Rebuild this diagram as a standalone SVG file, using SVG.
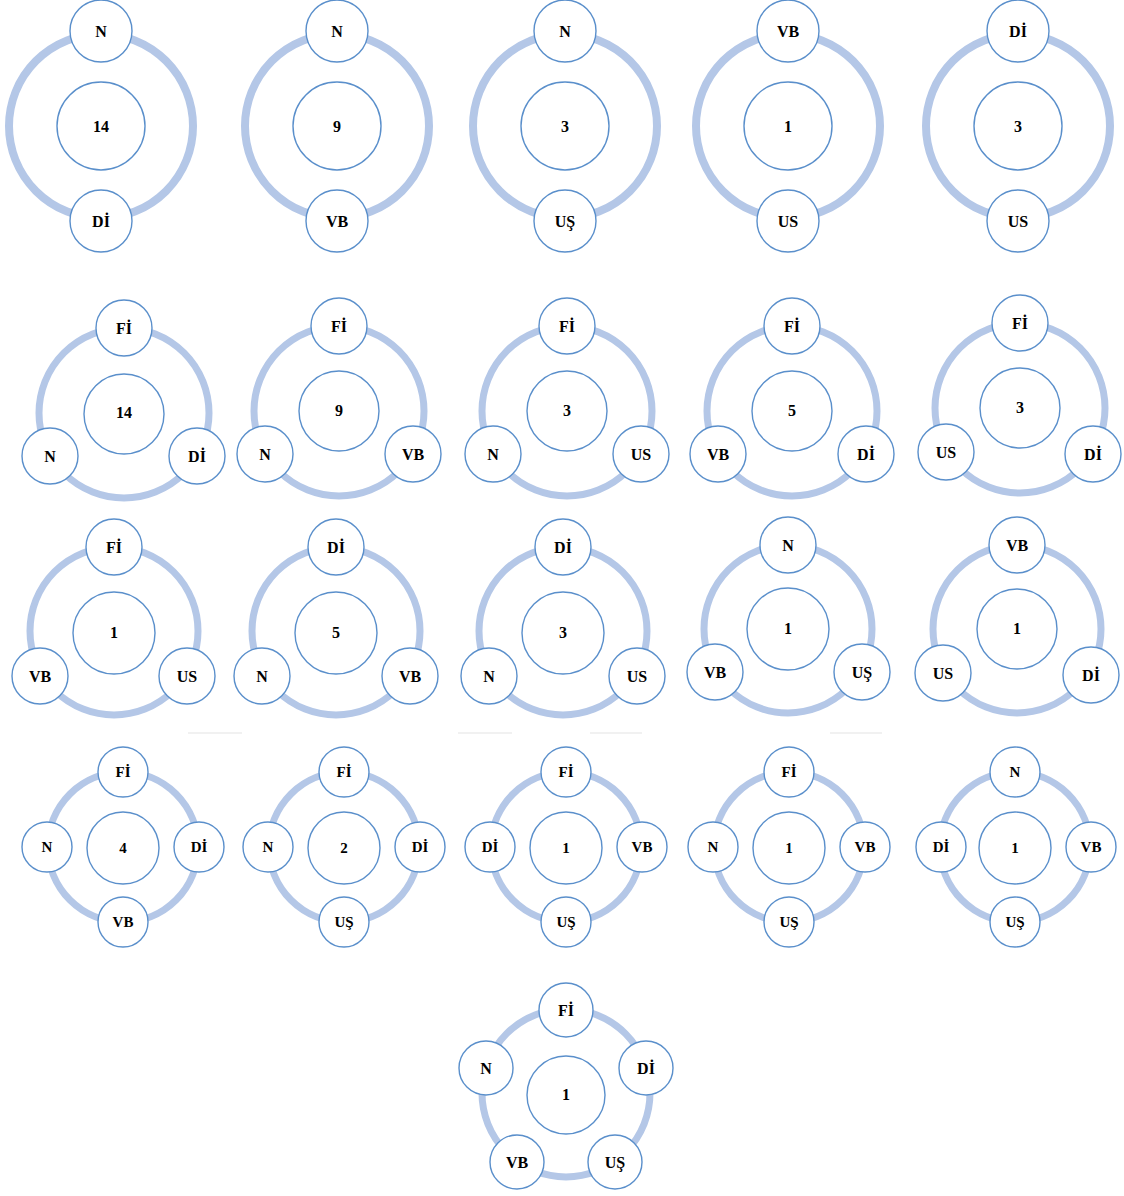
<svg xmlns="http://www.w3.org/2000/svg" width="1124" height="1196" viewBox="0 0 1124 1196">
<style>
.ring{fill:none;stroke:#b4c7e7;stroke-width:8}
.ring2{fill:none;stroke:#b4c7e7;stroke-width:7}
.nd{fill:#fff;stroke:#5a8fcb;stroke-width:1.4}
.t{font-family:"Liberation Serif","Times New Roman",serif;font-weight:bold;font-size:16px;fill:#000;text-anchor:middle}
.s{font-size:15px}
.faint{stroke:#ededed;stroke-width:1.5}
</style>
<rect width="1124" height="1196" fill="#fff"/>
<g id="connectors">
<circle class="ring" cx="101" cy="126" r="92"/>
<circle class="ring" cx="337" cy="126" r="92"/>
<circle class="ring" cx="565" cy="126" r="92"/>
<circle class="ring" cx="788" cy="126" r="92"/>
<circle class="ring" cx="1018" cy="126" r="92"/>
<circle class="ring2" cx="124" cy="413" r="85"/>
<circle class="ring2" cx="339" cy="411" r="85"/>
<circle class="ring2" cx="567" cy="411" r="85"/>
<circle class="ring2" cx="792" cy="411" r="85"/>
<circle class="ring2" cx="1020" cy="408" r="85"/>
<circle class="ring2" cx="114" cy="631" r="84"/>
<circle class="ring2" cx="336" cy="631" r="84"/>
<circle class="ring2" cx="563" cy="631" r="84"/>
<circle class="ring2" cx="788" cy="629" r="84"/>
<circle class="ring2" cx="1017" cy="629" r="84"/>
<circle class="ring2" cx="123" cy="847" r="75"/>
<circle class="ring2" cx="344" cy="847" r="75"/>
<circle class="ring2" cx="566" cy="847" r="75"/>
<circle class="ring2" cx="789" cy="847" r="75"/>
<circle class="ring2" cx="1015" cy="847" r="75"/>
<circle class="ring2" cx="566" cy="1093" r="84"/>
</g>
<g id="faint-lines">
<line class="faint" x1="188" y1="733" x2="242" y2="733"/>
<line class="faint" x1="458" y1="733" x2="512" y2="733"/>
<line class="faint" x1="590" y1="733" x2="642" y2="733"/>
<line class="faint" x1="830" y1="733" x2="882" y2="733"/>
</g>

<!-- Row 1 -->
<g id="r1d1">
<g id="r1d1-top"><circle class="nd" cx="101" cy="31" r="31"/><text class="t" x="101" y="36.5">N</text></g>
<g id="r1d1-center"><circle class="nd" cx="101" cy="126" r="44"/><text class="t" x="101" y="131.5">14</text></g>
<g id="r1d1-bottom"><circle class="nd" cx="101" cy="221" r="31"/><text class="t" x="101" y="226.5">Dİ</text></g>
</g>
<g id="r1d2">
<g id="r1d2-top"><circle class="nd" cx="337" cy="31" r="31"/><text class="t" x="337" y="36.5">N</text></g>
<g id="r1d2-center"><circle class="nd" cx="337" cy="126" r="44"/><text class="t" x="337" y="131.5">9</text></g>
<g id="r1d2-bottom"><circle class="nd" cx="337" cy="221" r="31"/><text class="t" x="337" y="226.5">VB</text></g>
</g>
<g id="r1d3">
<g id="r1d3-top"><circle class="nd" cx="565" cy="31" r="31"/><text class="t" x="565" y="36.5">N</text></g>
<g id="r1d3-center"><circle class="nd" cx="565" cy="126" r="44"/><text class="t" x="565" y="131.5">3</text></g>
<g id="r1d3-bottom"><circle class="nd" cx="565" cy="221" r="31"/><text class="t" x="565" y="226.5">UŞ</text></g>
</g>
<g id="r1d4">
<g id="r1d4-top"><circle class="nd" cx="788" cy="31" r="31"/><text class="t" x="788" y="36.5">VB</text></g>
<g id="r1d4-center"><circle class="nd" cx="788" cy="126" r="44"/><text class="t" x="788" y="131.5">1</text></g>
<g id="r1d4-bottom"><circle class="nd" cx="788" cy="221" r="31"/><text class="t" x="788" y="226.5">US</text></g>
</g>
<g id="r1d5">
<g id="r1d5-top"><circle class="nd" cx="1018" cy="31" r="31"/><text class="t" x="1018" y="36.5">Dİ</text></g>
<g id="r1d5-center"><circle class="nd" cx="1018" cy="126" r="44"/><text class="t" x="1018" y="131.5">3</text></g>
<g id="r1d5-bottom"><circle class="nd" cx="1018" cy="221" r="31"/><text class="t" x="1018" y="226.5">US</text></g>
</g>

<!-- Row 2 -->
<g id="r2d1">
<g id="r2d1-top"><circle class="nd" cx="124" cy="328" r="28"/><text class="t" x="124" y="333.5">Fİ</text></g>
<g id="r2d1-center"><circle class="nd" cx="124" cy="414" r="40"/><text class="t" x="124" y="418">14</text></g>
<g id="r2d1-left"><circle class="nd" cx="50" cy="456" r="28"/><text class="t" x="50" y="461.5">N</text></g>
<g id="r2d1-right"><circle class="nd" cx="197" cy="456" r="28"/><text class="t" x="197" y="461.5">Dİ</text></g>
</g>
<g id="r2d2">
<g id="r2d2-top"><circle class="nd" cx="339" cy="326" r="28"/><text class="t" x="339" y="331.5">Fİ</text></g>
<g id="r2d2-center"><circle class="nd" cx="339" cy="411" r="40"/><text class="t" x="339" y="416">9</text></g>
<g id="r2d2-left"><circle class="nd" cx="265" cy="454" r="28"/><text class="t" x="265" y="459.5">N</text></g>
<g id="r2d2-right"><circle class="nd" cx="413" cy="454" r="28"/><text class="t" x="413" y="459.5">VB</text></g>
</g>
<g id="r2d3">
<g id="r2d3-top"><circle class="nd" cx="567" cy="326" r="28"/><text class="t" x="567" y="331.5">Fİ</text></g>
<g id="r2d3-center"><circle class="nd" cx="567" cy="411" r="40"/><text class="t" x="567" y="416">3</text></g>
<g id="r2d3-left"><circle class="nd" cx="493" cy="454" r="28"/><text class="t" x="493" y="459.5">N</text></g>
<g id="r2d3-right"><circle class="nd" cx="641" cy="454" r="28"/><text class="t" x="641" y="459.5">US</text></g>
</g>
<g id="r2d4">
<g id="r2d4-top"><circle class="nd" cx="792" cy="326" r="28"/><text class="t" x="792" y="331.5">Fİ</text></g>
<g id="r2d4-center"><circle class="nd" cx="792" cy="411" r="40"/><text class="t" x="792" y="416">5</text></g>
<g id="r2d4-left"><circle class="nd" cx="718" cy="454" r="28"/><text class="t" x="718" y="459.5">VB</text></g>
<g id="r2d4-right"><circle class="nd" cx="866" cy="454" r="28"/><text class="t" x="866" y="459.5">Dİ</text></g>
</g>
<g id="r2d5">
<g id="r2d5-top"><circle class="nd" cx="1020" cy="323" r="28"/><text class="t" x="1020" y="328.5">Fİ</text></g>
<g id="r2d5-center"><circle class="nd" cx="1020" cy="408" r="40"/><text class="t" x="1020" y="413">3</text></g>
<g id="r2d5-left"><circle class="nd" cx="946" cy="452" r="28"/><text class="t" x="946" y="457.5">US</text></g>
<g id="r2d5-right"><circle class="nd" cx="1093" cy="454" r="28"/><text class="t" x="1093" y="459.5">Dİ</text></g>
</g>

<!-- Row 3 -->
<g id="r3d1">
<g id="r3d1-top"><circle class="nd" cx="114" cy="547" r="28"/><text class="t" x="114" y="552.5">Fİ</text></g>
<g id="r3d1-center"><circle class="nd" cx="114" cy="633" r="41"/><text class="t" x="114" y="638">1</text></g>
<g id="r3d1-left"><circle class="nd" cx="40" cy="676" r="28"/><text class="t" x="40" y="681.5">VB</text></g>
<g id="r3d1-right"><circle class="nd" cx="187" cy="676" r="28"/><text class="t" x="187" y="681.5">US</text></g>
</g>
<g id="r3d2">
<g id="r3d2-top"><circle class="nd" cx="336" cy="547" r="28"/><text class="t" x="336" y="552.5">Dİ</text></g>
<g id="r3d2-center"><circle class="nd" cx="336" cy="633" r="41"/><text class="t" x="336" y="638">5</text></g>
<g id="r3d2-left"><circle class="nd" cx="262" cy="676" r="28"/><text class="t" x="262" y="681.5">N</text></g>
<g id="r3d2-right"><circle class="nd" cx="410" cy="676" r="28"/><text class="t" x="410" y="681.5">VB</text></g>
</g>
<g id="r3d3">
<g id="r3d3-top"><circle class="nd" cx="563" cy="547" r="28"/><text class="t" x="563" y="552.5">Dİ</text></g>
<g id="r3d3-center"><circle class="nd" cx="563" cy="633" r="41"/><text class="t" x="563" y="638">3</text></g>
<g id="r3d3-left"><circle class="nd" cx="489" cy="676" r="28"/><text class="t" x="489" y="681.5">N</text></g>
<g id="r3d3-right"><circle class="nd" cx="637" cy="676" r="28"/><text class="t" x="637" y="681.5">US</text></g>
</g>
<g id="r3d4">
<g id="r3d4-top"><circle class="nd" cx="788" cy="545" r="28"/><text class="t" x="788" y="550.5">N</text></g>
<g id="r3d4-center"><circle class="nd" cx="788" cy="629" r="41"/><text class="t" x="788" y="634">1</text></g>
<g id="r3d4-left"><circle class="nd" cx="715" cy="672" r="28"/><text class="t" x="715" y="677.5">VB</text></g>
<g id="r3d4-right"><circle class="nd" cx="862" cy="672" r="28"/><text class="t" x="862" y="677.5">UŞ</text></g>
</g>
<g id="r3d5">
<g id="r3d5-top"><circle class="nd" cx="1017" cy="545" r="28"/><text class="t" x="1017" y="550.5">VB</text></g>
<g id="r3d5-center"><circle class="nd" cx="1017" cy="629" r="40"/><text class="t" x="1017" y="634">1</text></g>
<g id="r3d5-left"><circle class="nd" cx="943" cy="673" r="28"/><text class="t" x="943" y="678.5">US</text></g>
<g id="r3d5-right"><circle class="nd" cx="1091" cy="675" r="28"/><text class="t" x="1091" y="680.5">Dİ</text></g>
</g>

<!-- Row 4 -->
<g id="r4d1">
<g id="r4d1-top"><circle class="nd" cx="123" cy="772" r="25"/><text class="t s" x="123" y="777">Fİ</text></g>
<g id="r4d1-center"><circle class="nd" cx="123" cy="848" r="36"/><text class="t s" x="123" y="853">4</text></g>
<g id="r4d1-left"><circle class="nd" cx="47" cy="847" r="25"/><text class="t s" x="47" y="852">N</text></g>
<g id="r4d1-right"><circle class="nd" cx="199" cy="847" r="25"/><text class="t s" x="199" y="852">Dİ</text></g>
<g id="r4d1-bottom"><circle class="nd" cx="123" cy="922" r="25"/><text class="t s" x="123" y="927">VB</text></g>
</g>
<g id="r4d2">
<g id="r4d2-top"><circle class="nd" cx="344" cy="772" r="25"/><text class="t s" x="344" y="777">Fİ</text></g>
<g id="r4d2-center"><circle class="nd" cx="344" cy="848" r="36"/><text class="t s" x="344" y="853">2</text></g>
<g id="r4d2-left"><circle class="nd" cx="268" cy="847" r="25"/><text class="t s" x="268" y="852">N</text></g>
<g id="r4d2-right"><circle class="nd" cx="420" cy="847" r="25"/><text class="t s" x="420" y="852">Dİ</text></g>
<g id="r4d2-bottom"><circle class="nd" cx="344" cy="922" r="25"/><text class="t s" x="344" y="927">UŞ</text></g>
</g>
<g id="r4d3">
<g id="r4d3-top"><circle class="nd" cx="566" cy="772" r="25"/><text class="t s" x="566" y="777">Fİ</text></g>
<g id="r4d3-center"><circle class="nd" cx="566" cy="848" r="36"/><text class="t s" x="566" y="853">1</text></g>
<g id="r4d3-left"><circle class="nd" cx="490" cy="847" r="25"/><text class="t s" x="490" y="852">Dİ</text></g>
<g id="r4d3-right"><circle class="nd" cx="642" cy="847" r="25"/><text class="t s" x="642" y="852">VB</text></g>
<g id="r4d3-bottom"><circle class="nd" cx="566" cy="922" r="25"/><text class="t s" x="566" y="927">UŞ</text></g>
</g>
<g id="r4d4">
<g id="r4d4-top"><circle class="nd" cx="789" cy="772" r="25"/><text class="t s" x="789" y="777">Fİ</text></g>
<g id="r4d4-center"><circle class="nd" cx="789" cy="848" r="36"/><text class="t s" x="789" y="853">1</text></g>
<g id="r4d4-left"><circle class="nd" cx="713" cy="847" r="25"/><text class="t s" x="713" y="852">N</text></g>
<g id="r4d4-right"><circle class="nd" cx="865" cy="847" r="25"/><text class="t s" x="865" y="852">VB</text></g>
<g id="r4d4-bottom"><circle class="nd" cx="789" cy="922" r="25"/><text class="t s" x="789" y="927">UŞ</text></g>
</g>
<g id="r4d5">
<g id="r4d5-top"><circle class="nd" cx="1015" cy="772" r="25"/><text class="t s" x="1015" y="777">N</text></g>
<g id="r4d5-center"><circle class="nd" cx="1015" cy="848" r="36"/><text class="t s" x="1015" y="853">1</text></g>
<g id="r4d5-left"><circle class="nd" cx="941" cy="847" r="25"/><text class="t s" x="941" y="852">Dİ</text></g>
<g id="r4d5-right"><circle class="nd" cx="1091" cy="847" r="25"/><text class="t s" x="1091" y="852">VB</text></g>
<g id="r4d5-bottom"><circle class="nd" cx="1015" cy="922" r="25"/><text class="t s" x="1015" y="927">UŞ</text></g>
</g>

<!-- Row 5 -->
<g id="r5d1">
<g id="r5d1-top"><circle class="nd" cx="566" cy="1010" r="27"/><text class="t" x="566" y="1015.5">Fİ</text></g>
<g id="r5d1-center"><circle class="nd" cx="566" cy="1095" r="39"/><text class="t" x="566" y="1100">1</text></g>
<g id="r5d1-right"><circle class="nd" cx="646" cy="1068" r="27"/><text class="t" x="646" y="1073.5">Dİ</text></g>
<g id="r5d1-lowright"><circle class="nd" cx="615" cy="1162" r="27"/><text class="t" x="615" y="1167.5">UŞ</text></g>
<g id="r5d1-lowleft"><circle class="nd" cx="517" cy="1162" r="27"/><text class="t" x="517" y="1167.5">VB</text></g>
<g id="r5d1-left"><circle class="nd" cx="486" cy="1068" r="27"/><text class="t" x="486" y="1073.5">N</text></g>
</g>
</svg>
